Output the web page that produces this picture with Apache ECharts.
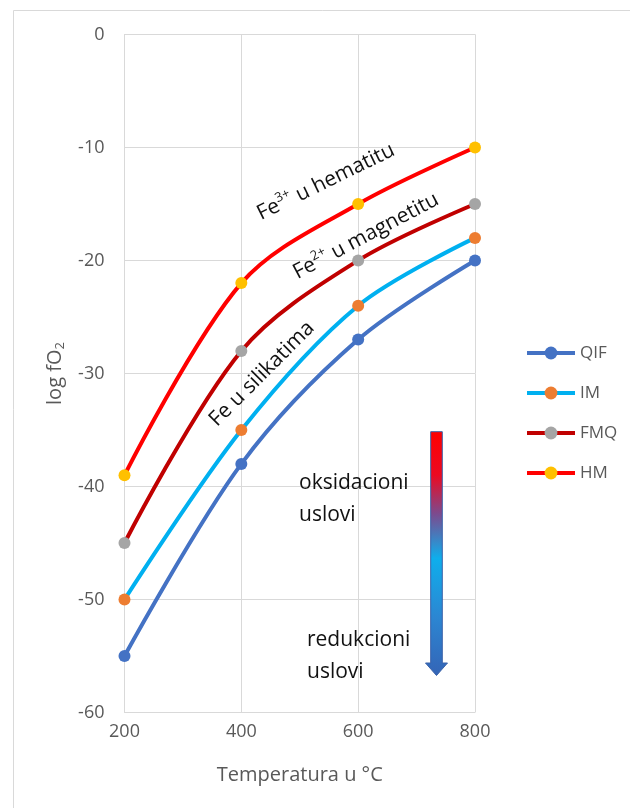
<!DOCTYPE html>
<html>
<head>
<meta charset="utf-8">
<script src="https://cdn.jsdelivr.net/npm/echarts@6/dist/echarts.min.js"></script>
<style>
html,body{margin:0;padding:0;background:#fff;}
#chart{width:630px;height:808px;}
</style>
</head>
<body>
<div id="chart"></div>
<script>
const temperatures = [200, 400, 600, 800];
const seriesNames = ['QIF', 'IM', 'FMQ', 'HM'];
const qifValues = [-55, -38, -27, -20];
const imValues = [-50, -35, -24, -18];
const fmqValues = [-45, -28, -20, -15];
const hmValues = [-39, -22, -15, -10];
const xTicks = [200, 400, 600, 800];
const yTicks = [0, -10, -20, -30, -40, -50, -60];

const lineColors = ['#4472C4', '#00B0F0', '#C00000', '#FF0000'];
const markerColors = ['#4472C4', '#ED7D31', '#A5A5A5', '#FFC000'];
const allValues = [qifValues, imValues, fmqValues, hmValues];

const chart = echarts.init(document.getElementById('chart'), null, {renderer: 'canvas'});
const FONT = '"Open Sans", "Noto Sans", sans-serif';

const series = seriesNames.map((name, i) => ({
  name: name,
  type: 'line',
  smooth: 0.33,
  symbol: 'circle',
  symbolSize: 12,
  showSymbol: true,
  data: temperatures.map((t, j) => [t, allValues[i][j]]),
  lineStyle: {color: lineColors[i], width: 4},
  itemStyle: {color: markerColors[i]},
  z: 3 + i
}));

const option = {
  backgroundColor: '#ffffff',
  animation: false,
  grid: {left: 124.5, right: 155, top: 34.5, bottom: 95.5, containLabel: false},
  xAxis: {
    type: 'value',
    min: xTicks[0],
    max: xTicks[xTicks.length - 1],
    interval: 200,
    name: 'Temperatura u \u00B0C',
    nameLocation: 'middle',
    nameGap: 53,
    nameTextStyle: {fontFamily: FONT, fontSize: 20, color: '#595959'},
    axisLine: {show: true, lineStyle: {color: '#D9D9D9', width: 1}},
    axisTick: {show: false},
    axisLabel: {fontFamily: FONT, fontSize: 18, color: '#595959', margin: 10},
    splitLine: {show: true, lineStyle: {color: '#D9D9D9', width: 1}}
  },
  yAxis: {
    type: 'value',
    min: yTicks[yTicks.length - 1],
    max: yTicks[0],
    interval: 10,
    name: '{m|log fO}{s|2}',
    nameLocation: 'middle',
    nameRotate: 90,
    nameGap: 53,
    nameTextStyle: {
      fontFamily: FONT, fontSize: 20, color: '#595959',
      rich: {
        m: {fontFamily: FONT, fontSize: 20, color: '#595959', lineHeight: 24},
        s: {fontFamily: FONT, fontSize: 13, color: '#595959', lineHeight: 14, verticalAlign: 'bottom'}
      }
    },
    axisLine: {show: true, lineStyle: {color: '#D9D9D9', width: 1}},
    axisTick: {show: false},
    axisLabel: {fontFamily: FONT, fontSize: 18, color: '#595959', margin: 20},
    splitLine: {show: true, lineStyle: {color: '#D9D9D9', width: 1}}
  },
  legend: {
    orient: 'vertical',
    left: 525,
    top: 343,
    padding: 0,
    itemWidth: 48,
    itemHeight: 16,
    itemGap: 20,
    lineStyle: {width: 4},
    textStyle: {fontFamily: FONT, fontSize: 17, color: '#595959', lineHeight: 20},
    data: seriesNames
  },
  series: series,
  graphic: [
    {
      type: 'polyline',
      shape: {points: [[13.5, 900], [13.5, 10.5], [700, 10.5]]},
      style: {stroke: '#D9D9D9', lineWidth: 1, fill: null},
      silent: true, z: 0
    },
    {
      type: 'text',
      x: 326, y: 182,
      rotation: 26 * Math.PI / 180,
      style: {
        text: '{a|Fe}{s|3+}{a| u hematitu}',
        align: 'center', verticalAlign: 'middle',
        rich: {
          a: {fontFamily: FONT, fontSize: 21, fill: '#111', lineHeight: 26},
          s: {fontFamily: FONT, fontSize: 13, fill: '#111', lineHeight: 14, verticalAlign: 'top'}
        }
      },
      z: 10
    },
    {
      type: 'text',
      x: 366, y: 236,
      rotation: 28 * Math.PI / 180,
      style: {
        text: '{a|Fe}{s|2+}{a| u magnetitu}',
        align: 'center', verticalAlign: 'middle',
        rich: {
          a: {fontFamily: FONT, fontSize: 21, fill: '#111', lineHeight: 26},
          s: {fontFamily: FONT, fontSize: 13, fill: '#111', lineHeight: 14, verticalAlign: 'top'}
        }
      },
      z: 10
    },
    {
      type: 'text',
      x: 262, y: 374,
      rotation: 45 * Math.PI / 180,
      style: {
        text: 'Fe u silikatima',
        font: '21px ' + FONT,
        fill: '#111',
        align: 'center', verticalAlign: 'middle'
      },
      z: 10
    },
    {
      type: 'text',
      x: 299, y: 467,
      style: {
        text: 'oksidacioni\nuslovi',
        font: '21px ' + FONT,
        fill: '#111',
        lineHeight: 32,
        align: 'left', verticalAlign: 'top'
      },
      z: 10
    },
    {
      type: 'text',
      x: 307, y: 624,
      style: {
        text: 'redukcioni\nuslovi',
        font: '21px ' + FONT,
        fill: '#111',
        lineHeight: 32,
        align: 'left', verticalAlign: 'top'
      },
      z: 10
    },
    {
      type: 'polygon',
      shape: {
        points: [[430.7, 431.7], [442.3, 431.7], [442.3, 663], [447.5, 663], [436.5, 675.5], [425.5, 663], [430.7, 663]]
      },
      style: {
        fill: new echarts.graphic.LinearGradient(0, 0, 0, 1, [
          {offset: 0, color: '#FF0000'},
          {offset: 0.18, color: '#EC0A22'},
          {offset: 0.34, color: '#7A4C90'},
          {offset: 0.52, color: '#0EAEEC'},
          {offset: 0.76, color: '#2C86D2'},
          {offset: 1, color: '#3464B6'}
        ]),
        stroke: '#3A62A8',
        lineWidth: 1
      },
      z: 10
    }
  ]
};
chart.setOption(option);
</script>
</body>
</html>
